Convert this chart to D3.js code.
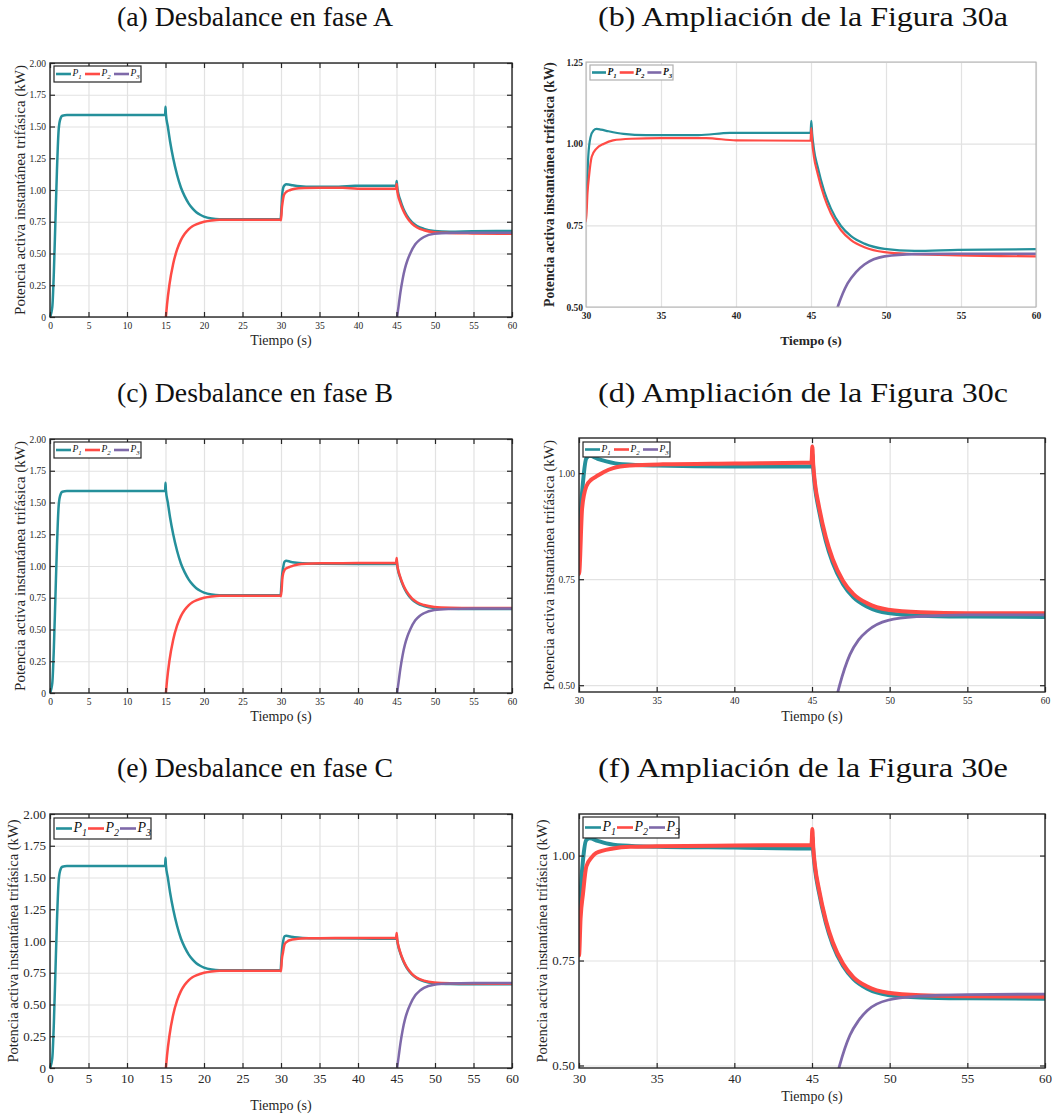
<!DOCTYPE html>
<html lang="es">
<head>
<meta charset="UTF-8">
<title>Potencia activa instantánea trifásica</title>
<script src="https://cdn.jsdelivr.net/npm/d3@7"></script>
<style>
html,body {margin:0;padding:0;background:#fff;}
svg {display:block;font-family:"Liberation Serif","Times New Roman",serif;}
</style>
</head>
<body>
<div id="chart"></div>
<script>
// ---- datos (t en s, P en kW) ----
const seriesNames = ['P', 'P', 'P'];
const seriesSubs = ['1', '2', '3'];
const seriesColors = ['#25909b', '#ff4b45', '#7e69a9'];

const xTicksFull = [0, 5, 10, 15, 20, 25, 30, 35, 40, 45, 50, 55, 60];
const xTicksZoom = [30, 35, 40, 45, 50, 55, 60];
const yTicksFull = [0, 0.25, 0.5, 0.75, 1.0, 1.25, 1.5, 1.75, 2.0];
const yTicksZoomA = [0.5, 0.75, 1.0, 1.25];
const yTicksZoom = [0.5, 0.75, 1.0];

// tramo comun 0-30 s
const p1Arranque = [[0,0],[0.3,0.08],[0.5,0.35],[0.7,0.75],[0.9,1.15],[1.1,1.45],[1.3,1.55],[1.6,1.585],[2.2,1.59],[8,1.59],[14.95,1.59],
  [15.0,1.655],[15.05,1.6],[15.3,1.5],[15.6,1.38],[16,1.25],[16.5,1.12],[17,1.02],[17.5,0.95],[18,0.895],[18.5,0.855],[19,0.825],
  [19.5,0.805],[20,0.79],[21,0.775],[22,0.77],[25,0.77],[29.95,0.77]];
const p2Arranque = [[15.05,0],[15.2,0.1],[15.5,0.25],[16,0.42],[16.5,0.53],[17,0.605],[17.5,0.655],[18,0.69],[18.5,0.715],[19,0.73],
  [20,0.75],[21,0.76],[22,0.765],[29.95,0.765]];
const p3Arranque = [[45.08,0],[45.3,0.1],[45.5,0.19],[45.8,0.3],[46.1,0.383],[46.4,0.443],[46.78,0.5],[47.44,0.572],[48.0,0.607]];

// fase A
const p1FaseA = p1Arranque.concat([[30.05,0.85],[30.15,0.96],[30.3,1.02],[30.5,1.04],[30.7,1.045],[31,1.043],[31.5,1.038],[32.5,1.03],
  [34,1.026],[37.5,1.026],[39.6,1.033],[44.97,1.033],[45.02,1.07],[45.08,1.03],[45.2,0.982],[45.44,0.93],[45.89,0.853],
  [46.33,0.801],[47.0,0.748],[47.67,0.717],[48.56,0.694],[49.9,0.678],[51.9,0.672],[54.8,0.675],[60,0.677]]);
const p2FaseA = p2Arranque.concat([[30.0,0.762],[30.1,0.85],[30.2,0.9],[30.38,0.96],[30.7,0.985],[31.2,1.0],[31.8,1.01],[33,1.015],
  [35,1.017],[38,1.017],[40,1.01],[44.97,1.009],[45.02,1.048],[45.08,1.005],[45.2,0.959],[45.44,0.909],[45.89,0.836],
  [46.33,0.786],[47.0,0.735],[47.67,0.705],[48.56,0.683],[49.9,0.668],[51.9,0.662],[54.8,0.658],[60,0.655]]);
const p3FaseA = p3Arranque.concat([[48.56,0.63],[49.9,0.655],[51.9,0.662],[54.8,0.663],[60,0.663]]);

// fase B
const p1FaseB = p1Arranque.concat([[30.05,0.85],[30.15,0.93],[30.26,0.98],[30.47,1.035],[30.69,1.041],[31.2,1.034],[31.76,1.028],
  [32.8,1.021],[35,1.018],[40,1.016],[44.97,1.016],[45.02,1.045],[45.08,1.01],[45.2,0.965],[45.44,0.914],[45.89,0.84],
  [46.33,0.789],[47.0,0.738],[47.67,0.707],[48.56,0.685],[49.9,0.67],[52,0.664],[55,0.662],[60,0.661]]);
const p2FaseB = p2Arranque.concat([[30.0,0.762],[30.2,0.917],[30.47,0.969],[30.8,0.985],[31.1,0.992],[31.6,1.003],[32.2,1.012],
  [33.3,1.018],[35.4,1.021],[40,1.023],[44.97,1.025],[45.02,1.063],[45.08,1.02],[45.2,0.974],[45.44,0.923],[45.89,0.849],
  [46.33,0.798],[47.0,0.746],[47.67,0.715],[48.56,0.693],[49.9,0.678],[52,0.672],[55,0.67],[60,0.67]]);
const p3FaseB = p3Arranque.concat([[48.56,0.628],[49.9,0.653],[51.9,0.662],[55,0.666],[60,0.666]]);

// fase C
const p1FaseC = p1Arranque.concat([[30.05,0.86],[30.15,0.94],[30.26,0.99],[30.47,1.037],[30.69,1.041],[31.2,1.035],[31.76,1.029],
  [32.8,1.024],[35,1.021],[40,1.019],[44.97,1.017],[45.02,1.045],[45.08,1.01],[45.2,0.966],[45.44,0.914],[45.89,0.84],
  [46.33,0.788],[47.0,0.737],[47.67,0.706],[48.56,0.683],[49.9,0.668],[52,0.662],[55,0.66],[60,0.659]]);
const p2FaseC = p2Arranque.concat([[30.0,0.762],[30.1,0.85],[30.26,0.91],[30.47,0.974],[30.8,0.995],[31.1,1.006],[32.2,1.017],
  [33.3,1.021],[35,1.022],[40,1.024],[44.97,1.025],[45.02,1.063],[45.08,1.02],[45.2,0.974],[45.44,0.921],[45.89,0.846],
  [46.33,0.794],[47.0,0.742],[47.67,0.71],[48.56,0.688],[49.9,0.673],[52,0.667],[55,0.665],[60,0.664]]);
const p3FaseC = p3Arranque.concat([[48.56,0.631],[49.9,0.656],[51.9,0.665],[55,0.669],[60,0.67]]);

const titles = ['(a) Desbalance en fase A', '(b) Ampliación de la Figura 30a',
  '(c) Desbalance en fase B', '(d) Ampliación de la Figura 30c',
  '(e) Desbalance en fase C', '(f) Ampliación de la Figura 30e'];
const yLabel = 'Potencia activa instantánea trifásica (kW)';
const xLabel = 'Tiempo (s)';

// ---- disposicion de los paneles ----
const W = 1056, H = 1117;
const svg = d3.select('#chart').append('svg').attr('width', W).attr('height', H);

const fmtFull = d => d === 0 ? '0' : d.toFixed(2);
const fmtZoom = d => d.toFixed(2);

const panels = [
  {id:'a', title:titles[0], tx:255, ty:26, tw:276, data:[p1FaseA,p2FaseA,p3FaseA],
   x0:50, x1:512, y0:63, y1:317, xDom:[0,60], yDom:[0,2], xTicks:xTicksFull, yTicks:yTicksFull, fmt:fmtFull,
   fs:9.5, bold:false, box:'#262626', ticks:true, lw:[2.5,2.5,2.5], clip:false,
   xlY:345, xlFs:14, ylX:25, ylFs:15,
   legend:{x:54, y:66, w:87, h:16, len:15, step:29, fs:9.5}},
  {id:'b', title:titles[1], tx:803, ty:26, tw:410, data:[p1FaseA,p2FaseA,p3FaseA],
   x0:586, x1:1036, y0:62, y1:307, xDom:[30,60], yDom:[0.5,1.25], xTicks:xTicksZoom, yTicks:yTicksZoomA, fmt:fmtZoom,
   fs:9.5, bold:true, box:'#b0b0b0', ticks:false, lw:[2.2,2.2,2.6], clip:true,
   xlY:345, xlFs:13.5, ylX:554, ylFs:13.7,
   legend:{x:590, y:65, w:83, h:15, len:14, step:27.7, fs:9.5}},
  {id:'c', title:titles[2], tx:255, ty:402, tw:276, data:[p1FaseB,p2FaseB,p3FaseB],
   x0:50, x1:512, y0:439, y1:693, xDom:[0,60], yDom:[0,2], xTicks:xTicksFull, yTicks:yTicksFull, fmt:fmtFull,
   fs:9.5, bold:false, box:'#262626', ticks:true, lw:[2.5,2.5,2.5], clip:false,
   xlY:721, xlFs:14, ylX:25, ylFs:15,
   legend:{x:54, y:442, w:87, h:16, len:15, step:29, fs:9.5}},
  {id:'d', title:titles[3], tx:803, ty:402, tw:410, data:[p1FaseB,p2FaseB,p3FaseB],
   x0:579, x1:1045, y0:438, y1:692, xDom:[30,60], yDom:[0.484,1.083], xTicks:xTicksZoom, yTicks:yTicksZoom, fmt:fmtZoom,
   fs:9.5, bold:false, box:'#262626', ticks:true, lw:[4,4,2.8], clip:true,
   xlY:721, xlFs:14, ylX:554, ylFs:15,
   legend:{x:583, y:442, w:87, h:15, len:15, step:29, fs:9.5}},
  {id:'e', title:titles[4], tx:255, ty:777, tw:276, data:[p1FaseC,p2FaseC,p3FaseC],
   x0:50, x1:512, y0:814, y1:1068, xDom:[0,60], yDom:[0,2], xTicks:xTicksFull, yTicks:yTicksFull, fmt:fmtFull,
   fs:13, bold:false, box:'#262626', ticks:true, lw:[2.5,2.5,2.5], clip:false,
   xlY:1110, xlFs:14, ylX:18, ylFs:14.6,
   legend:{x:54, y:818, w:97, h:21, len:16, step:32, fs:14}},
  {id:'f', title:titles[5], tx:803, ty:777, tw:410, data:[p1FaseC,p2FaseC,p3FaseC],
   x0:579, x1:1045, y0:814, y1:1068, xDom:[30,60], yDom:[0.494,1.099], xTicks:xTicksZoom, yTicks:yTicksZoom, fmt:fmtZoom,
   fs:13, bold:false, box:'#262626', ticks:true, lw:[4,4,2.8], clip:true,
   xlY:1101, xlFs:14, ylX:547, ylFs:14.6,
   legend:{x:583, y:817, w:96, h:21, len:16, step:32, fs:14}}
];

const gridColor = '#e2e2e2';
const textColor = '#262626';

panels.forEach(drawPanel);

function drawPanel(p) {
  const x = d3.scaleLinear().domain(p.xDom).range([p.x0, p.x1]);
  const y = d3.scaleLinear().domain(p.yDom).range([p.y1, p.y0]);
  const g = svg.append('g').attr('class', 'panel-' + p.id);
  const weight = p.bold ? 'bold' : 'normal';

  // titulo
  svg.append('text')
    .attr('x', p.tx).attr('y', p.ty)
    .attr('text-anchor', 'middle')
    .attr('font-size', 27)
    .attr('fill', '#111')
    .attr('textLength', p.tw)
    .attr('lengthAdjust', 'spacingAndGlyphs')
    .text(p.title);

  // rejilla
  g.append('g').attr('transform', `translate(0,${p.y1})`)
    .call(d3.axisBottom(x).tickValues(p.xTicks).tickSize(-(p.y1 - p.y0)).tickFormat(''))
    .call(s => { s.select('.domain').remove(); s.selectAll('line').attr('stroke', gridColor).attr('stroke-width', 1.2); });
  g.append('g').attr('transform', `translate(${p.x0},0)`)
    .call(d3.axisLeft(y).tickValues(p.yTicks).tickSize(-(p.x1 - p.x0)).tickFormat(''))
    .call(s => { s.select('.domain').remove(); s.selectAll('line').attr('stroke', gridColor).attr('stroke-width', 1.2); });

  // curvas
  const clipId = 'clip-' + p.id;
  svg.append('clipPath').attr('id', clipId).append('rect')
    .attr('x', p.x0).attr('y', p.y0).attr('width', p.x1 - p.x0).attr('height', p.y1 - p.y0);

  const line = d3.line().x(d => x(d[0])).y(d => y(d[1])).curve(d3.curveMonotoneX);
  const lines = g.append('g');
  if (p.clip) lines.attr('clip-path', `url(#${clipId})`);
  p.data.forEach((d, i) => {
    lines.append('path')
      .attr('d', line(d))
      .attr('fill', 'none')
      .attr('stroke', seriesColors[i])
      .attr('stroke-width', p.lw[i])
      .attr('stroke-linejoin', 'round');
  });

  // ejes
  const tick = p.ticks ? -5 : 0;
  const xAxis = g.append('g').attr('transform', `translate(0,${p.y1})`)
    .call(d3.axisBottom(x).tickValues(p.xTicks).tickSizeInner(tick).tickSizeOuter(0).tickPadding(p.fs > 11 ? 6 : 5).tickFormat(d => d));
  const yAxis = g.append('g').attr('transform', `translate(${p.x0},0)`)
    .call(d3.axisLeft(y).tickValues(p.yTicks).tickSizeInner(tick).tickSizeOuter(0).tickPadding(p.bold ? 3 : 4).tickFormat(p.fmt));
  const xTop = g.append('g').attr('transform', `translate(0,${p.y0})`)
    .call(d3.axisTop(x).tickValues(p.xTicks).tickSizeInner(tick).tickSizeOuter(0).tickFormat(''));
  const yRight = g.append('g').attr('transform', `translate(${p.x1},0)`)
    .call(d3.axisRight(y).tickValues(p.yTicks).tickSizeInner(tick).tickSizeOuter(0).tickFormat(''));

  [xAxis, yAxis, xTop, yRight].forEach(a => {
    a.attr('font-family', null);
    a.select('.domain').remove();
    a.selectAll('line').attr('stroke', p.box).attr('stroke-width', 1.2);
    a.selectAll('text')
      .attr('font-size', p.fs)
      .attr('font-weight', weight)
      .attr('fill', textColor);
  });

  g.append('rect')
    .attr('x', p.x0).attr('y', p.y0)
    .attr('width', p.x1 - p.x0).attr('height', p.y1 - p.y0)
    .attr('fill', 'none')
    .attr('stroke', p.box)
    .attr('stroke-width', p.ticks ? 1.4 : 1);

  // etiquetas de ejes
  g.append('text')
    .attr('x', (p.x0 + p.x1) / 2).attr('y', p.xlY)
    .attr('text-anchor', 'middle')
    .attr('font-size', p.xlFs)
    .attr('font-weight', weight)
    .attr('fill', textColor)
    .text(xLabel);
  g.append('text')
    .attr('transform', `translate(${p.ylX},${(p.y0 + p.y1) / 2}) rotate(-90)`)
    .attr('text-anchor', 'middle')
    .attr('font-size', p.ylFs)
    .attr('font-weight', weight)
    .attr('fill', textColor)
    .text(yLabel);

  drawLegend(g, p);
}

function drawLegend(g, p) {
  const L = p.legend;
  const weight = p.bold ? 'bold' : 'normal';
  const leg = g.append('g');
  leg.append('rect')
    .attr('x', L.x).attr('y', L.y).attr('width', L.w).attr('height', L.h)
    .attr('fill', '#fff')
    .attr('stroke', p.bold ? '#b0b0b0' : '#262626')
    .attr('stroke-width', 1.2);
  const cy = L.y + L.h / 2;
  seriesNames.forEach((name, i) => {
    const lx = L.x + 2 + i * L.step;
    leg.append('line')
      .attr('x1', lx).attr('x2', lx + L.len)
      .attr('y1', cy).attr('y2', cy)
      .attr('stroke', seriesColors[i])
      .attr('stroke-width', 2.6);
    const t = leg.append('text')
      .attr('x', lx + L.len + 1.5).attr('y', cy + L.fs * 0.22)
      .attr('font-size', L.fs)
      .attr('font-style', 'italic')
      .attr('font-weight', weight)
      .attr('fill', '#111');
    t.append('tspan').text(name);
    t.append('tspan')
      .attr('font-size', L.fs * 0.72)
      .attr('dy', L.fs * 0.35)
      .text(seriesSubs[i]);
  });
}
</script>
</body>
</html>
